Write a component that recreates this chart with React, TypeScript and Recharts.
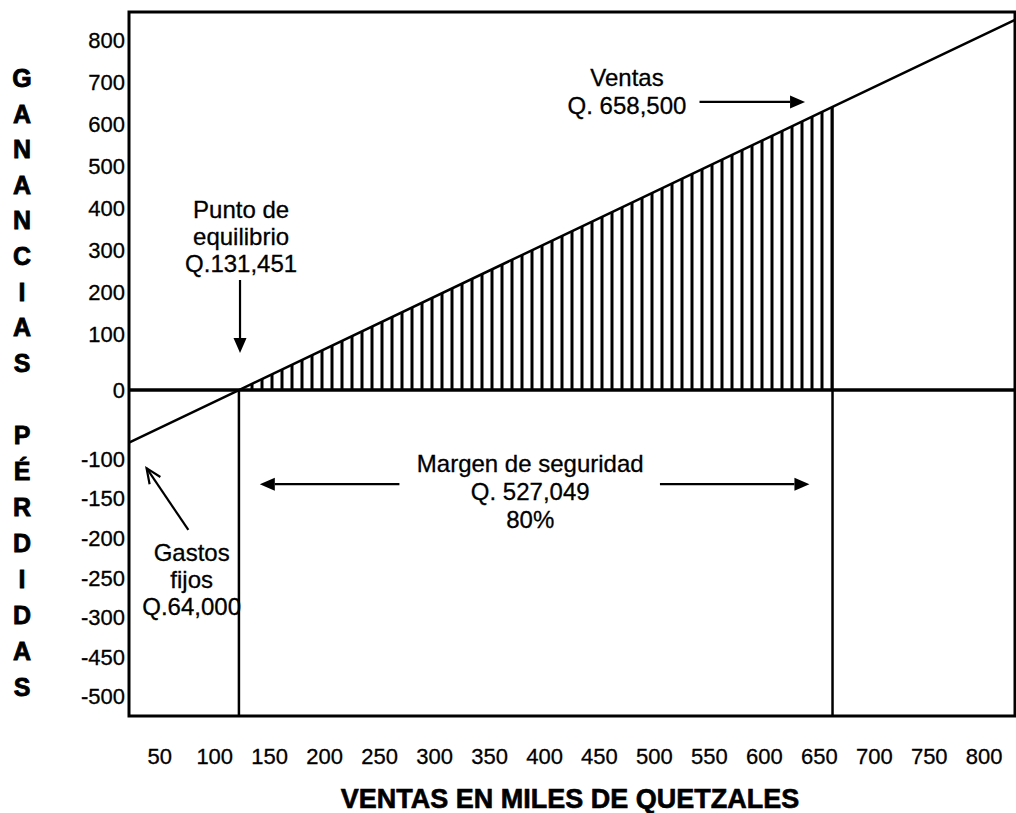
import {
  Area,
  ComposedChart,
  Line,
  ReferenceArea,
  ReferenceDot,
  ReferenceLine,
  XAxis,
  YAxis,
} from 'recharts';

const FONT = '"Liberation Sans", Arial, sans-serif';

// eje X: ventas en miles de quetzales; eje Y: resultado (escala del dibujo)
const ventas = [22, 122, 662, 828];
const resultado = [-125, 0, 674, 881];
const zonaGanancia = [null, 0, 674, null];

const xTicks = [50, 100, 150, 200, 250, 300, 350, 400, 450, 500, 550, 600, 650, 700, 750, 800];

// la escala vertical del original no es regular: posicion de cada rotulo y su texto
const yTickPos = [833, 733, 633, 533, 433, 333, 233, 133, 0, -164, -258, -352, -447, -541, -635, -730];
const yTickLabels = ['800', '700', '600', '500', '400', '300', '200', '100', '0', '-100', '-150', '-200', '-250', '-300', '-450', '-500'];

const X_DOMAIN: [number, number] = [22, 828];
const Y_DOMAIN: [number, number] = [-776, 900];

const notas = [
  { x: 475, y: 745, lines: ['Ventas', 'Q. 658,500'], step: 28 },
  { x: 124, y: 429, lines: ['Punto de', 'equilibrio', 'Q.131,451'], step: 27 },
  { x: 387, y: -176, lines: ['Margen de seguridad', 'Q. 527,049', '80%'], step: 28 },
  { x: 79, y: -386, lines: ['Gastos', 'fijos', 'Q.64,000'], step: 27 },
];

const flechas = [
  { from: [541, 686], to: [637, 686], open: false },
  { from: [123, 262], to: [123, 88], open: false },
  { from: [268, -224], to: [141, -224], open: false },
  { from: [505, -224], to: [641, -224], open: false },
  { from: [76, -333], to: [38, -186], open: true },
];

const ganancias = 'GANANCIAS'.split('');
const perdidas = 'PÉRDIDAS'.split('');

const data = ventas.map((v, i) => ({
  ventas: v,
  resultado: resultado[i],
  ganancia: zonaGanancia[i],
}));

function Flecha({ x1, y1, x2, y2, open }: any) {
  const dx = x2 - x1;
  const dy = y2 - y1;
  const len = Math.hypot(dx, dy) || 1;
  const ux = dx / len;
  const uy = dy / len;
  const head = 15;
  const half = 6.5;
  const bx = x2 - ux * head;
  const by = y2 - uy * head;
  const px = -uy * half;
  const py = ux * half;
  const pts = `${bx + px},${by + py} ${x2},${y2} ${bx - px},${by - py}`;
  return (
    <g>
      <line x1={x1} y1={y1} x2={open ? x2 : bx} y2={open ? y2 : by} stroke="#000" strokeWidth={2.2} />
      {open ? (
        <polyline points={pts} fill="none" stroke="#000" strokeWidth={2.2} />
      ) : (
        <polygon points={pts} fill="#000" />
      )}
    </g>
  );
}

function Nota({ cx, cy, lines, step }: any) {
  return (
    <text textAnchor="middle" fontFamily={FONT} fontSize={24} fill="#000" stroke="#000" strokeWidth={0.3}>
      {lines.map((t: string, i: number) => (
        <tspan key={i} x={cx} y={cy + 8.5 + i * step}>
          {t}
        </tspan>
      ))}
    </text>
  );
}

function LetrasVerticales() {
  return (
    <g
      fontFamily={FONT}
      fontSize={25}
      fontWeight="bold"
      fill="#000"
      stroke="#000"
      strokeWidth={0.8}
      textAnchor="middle"
    >
      {ganancias.map((c, i) => (
        <text key={'g' + i} x={22} y={78 + i * 35.6 + 9}>
          {c}
        </text>
      ))}
      {perdidas.map((c, i) => (
        <text key={'p' + i} x={22} y={435 + i * 36 + 9}>
          {c}
        </text>
      ))}
    </g>
  );
}

function TituloX() {
  return (
    <text
      x={570}
      y={808}
      textAnchor="middle"
      fontFamily={FONT}
      fontSize={27}
      fontWeight="bold"
      fill="#000"
      stroke="#000"
      strokeWidth={0.6}
    >
      VENTAS EN MILES DE QUETZALES
    </text>
  );
}

const tickStyle = { fontSize: 22, fill: '#000', fontFamily: FONT, stroke: '#000', strokeWidth: 0.3 };

export default function App() {
  return (
    <div style={{ position: 'absolute', left: 0, top: 0, width: 1016, height: 813, background: '#fff' }}>
      <ComposedChart
        width={1016}
        height={813}
        data={data}
        margin={{ top: 12, right: 1, bottom: 37, left: 0 }}
      >
        <defs>
          <pattern id="rayado" patternUnits="userSpaceOnUse" width={10} height={10}>
            <rect x={0.5} y={0} width={3} height={10} fill="#000" />
          </pattern>
        </defs>
        <XAxis
          dataKey="ventas"
          type="number"
          domain={X_DOMAIN}
          allowDataOverflow
          ticks={xTicks}
          interval={0}
          tickLine={false}
          axisLine={false}
          tickSize={0}
          tickMargin={32}
          height={60}
          tick={tickStyle}
          label={{ content: () => <TituloX /> }}
        />
        <YAxis
          type="number"
          domain={Y_DOMAIN}
          allowDataOverflow
          ticks={yTickPos}
          interval={0}
          tickFormatter={(v: number) => yTickLabels[yTickPos.indexOf(v)] ?? ''}
          tickLine={false}
          axisLine={false}
          tickSize={0}
          tickMargin={4}
          width={129}
          tick={tickStyle}
          label={{ content: () => <LetrasVerticales /> }}
        />
        <Area
          dataKey="ganancia"
          type="linear"
          baseValue={0}
          stroke="none"
          fill="url(#rayado)"
          fillOpacity={1}
          isAnimationActive={false}
        />
        <Line
          dataKey="resultado"
          type="linear"
          stroke="#000"
          strokeWidth={2.5}
          dot={false}
          activeDot={false}
          isAnimationActive={false}
        />
        <ReferenceLine y={0} stroke="#000" strokeWidth={3.5} />
        <ReferenceLine
          segment={[
            { x: ventas[1], y: resultado[1] },
            { x: ventas[1], y: Y_DOMAIN[0] },
          ]}
          stroke="#000"
          strokeWidth={2.5}
        />
        <ReferenceLine
          segment={[
            { x: ventas[2], y: resultado[2] },
            { x: ventas[2], y: Y_DOMAIN[0] },
          ]}
          stroke="#000"
          strokeWidth={2.5}
        />
        <ReferenceArea
          x1={X_DOMAIN[0]}
          x2={X_DOMAIN[1]}
          y1={Y_DOMAIN[0]}
          y2={Y_DOMAIN[1]}
          fill="none"
          stroke="#000"
          strokeWidth={3}
          ifOverflow="visible"
        />
        {flechas.map((f, i) => (
          <ReferenceLine
            key={'f' + i}
            segment={[
              { x: f.from[0], y: f.from[1] },
              { x: f.to[0], y: f.to[1] },
            ]}
            shape={(p: any) => <Flecha {...p} open={f.open} />}
          />
        ))}
        {notas.map((n, i) => (
          <ReferenceDot
            key={'n' + i}
            x={n.x}
            y={n.y}
            r={0}
            shape={(p: any) => <Nota cx={p.cx} cy={p.cy} lines={n.lines} step={n.step} />}
          />
        ))}
      </ComposedChart>
    </div>
  );
}
